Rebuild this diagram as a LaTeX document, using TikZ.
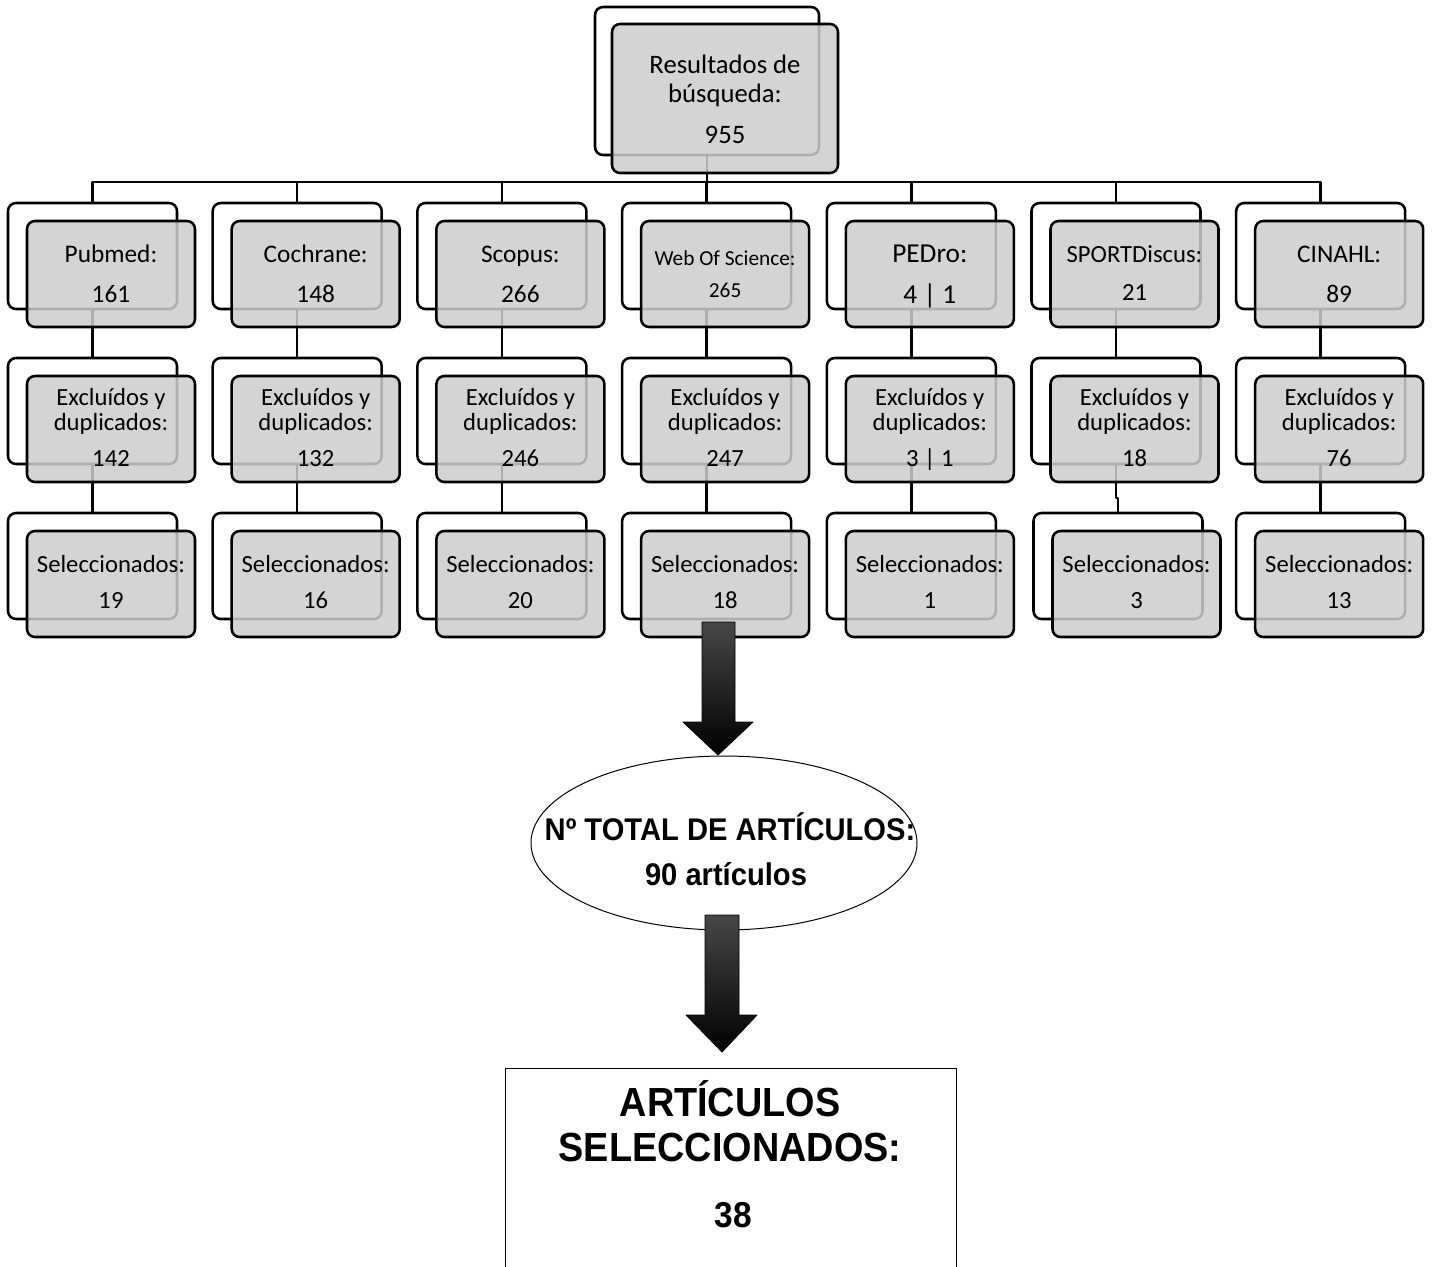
\documentclass[tikz,border=0pt]{standalone}
\usepackage{fontspec}
\setmainfont{Carlito}
\newfontfamily\arialfont{Liberation Sans}[FakeStretch=0.93]
\usetikzlibrary{shapes.geometric,calc}
\definecolor{boxgray}{RGB}{205,205,205}
\begin{document}
\begin{tikzpicture}[x=0.75pt,y=-0.75pt,line join=round,
  backbox/.style={draw=black,line width=1.9pt,rounded corners=6pt,fill=white,
    minimum width=126.75pt,minimum height=79.5pt,inner sep=0pt,outer sep=0pt,anchor=north west},
  frontbox/.style={draw=black,line width=1.9pt,rounded corners=6pt,fill=boxgray,fill opacity=0.85,
    minimum width=126pt,minimum height=79.5pt,inner sep=0pt,outer sep=0pt,anchor=north west},
  conn/.style={draw=black,line width=1.9pt},
  lbl/.style={anchor=base,inner sep=0pt,font=\fontsize{18.5}{20}\selectfont},
  lblA/.style={anchor=base,inner sep=0pt,font=\fontsize{19}{21}\selectfont},
  bigtxt/.style={anchor=base,inner sep=0pt,font=\arialfont\bfseries\fontsize{23.5}{25}\selectfont},
  hugetxt/.style={anchor=base,inner sep=0pt,font=\arialfont\bfseries\fontsize{30.5}{32}\selectfont},
  blockarrow/.style={draw=black,line width=0.6pt,top color=black!72,middle color=black,bottom color=black}
]
\clip (0,0) rectangle (1432,1267);
\fill[white] (0,0) rectangle (1432,1267);

% top box
\node[backbox,minimum width=168pt,minimum height=111pt] (tb) at (595,7) {};
\path (tb.south) ++(0,27) coordinate (bus);

% back boxes
\foreach \k in {1,...,7}{
  \pgfmathsetmacro\xl{8+204.7*(\k-1)}
  \foreach \r/\yt in {1/203,2/358,3/513}{
    \pgfmathsetmacro\dx{((\k==6)&&(\r==3))?2:0}
    \node[backbox] (b\k\r) at (\xl+\dx,\yt) {};
  }
}

% connectors
\draw[conn] (tb.south) -- (bus);
\foreach \k in {1,...,7}{
  \draw[conn] (bus) -| (b\k1.north);
  \draw[conn] (b\k1.south) -- (b\k2.north);
  \draw[conn] (b\k2.south) -- ++(0,34) -| (b\k3.north);
}

% front boxes
\node[frontbox,minimum width=169.5pt,minimum height=111.75pt] (tf) at (612,24) {};
\foreach \k in {1,...,7}{
  \pgfmathsetmacro\xl{8+204.7*(\k-1)}
  \foreach \r/\yt in {1/203,2/358,3/513}{
    \pgfmathsetmacro\dx{((\k==6)&&(\r==3))?2:0}
    \node[frontbox] (f\k\r) at (\xl+19+\dx,\yt+18) {};
  }
}

% top text
\node[anchor=base,inner sep=0pt,font=\fontsize{20}{22}\selectfont] (ta) at ($(tf.north)+(0,49)$) {Resultados de};
\node[anchor=base,inner sep=0pt,font=\fontsize{20}{22}\selectfont] (tbq) at ($(tf.north)+(0,78)$) {búsqueda:};
\node[anchor=base,inner sep=0pt,font=\fontsize{20}{22}\selectfont] (tn) at ($(tf.north)+(0,119)$) {955};

% row 1 text
\node[lblA] (n1a) at ($(f11.north)+(0,41)$) {Pubmed:};
\node[lblA] (n1b) at ($(f11.north)+(0,81)$) {161};
\node[lblA] (n2a) at ($(f21.north)+(0,41)$) {Cochrane:};
\node[lblA] (n2b) at ($(f21.north)+(0,81)$) {148};
\node[lblA] (n3a) at ($(f31.north)+(0,41)$) {Scopus:};
\node[lblA] (n3b) at ($(f31.north)+(0,81)$) {266};
\node[anchor=base,inner sep=0pt,font=\fontsize{16}{18}\selectfont] (n4a) at ($(f41.north)+(0,44)$) {Web Of Science:};
\node[anchor=base,inner sep=0pt,font=\fontsize{16}{18}\selectfont] (n4b) at ($(f41.north)+(0,76)$) {265};
\node[anchor=base,inner sep=0pt,font=\fontsize{20.5}{22}\selectfont] (n5a) at ($(f51.north)+(0,41)$) {PEDro:};
\node[anchor=base,inner sep=0pt,font=\fontsize{20.5}{22}\selectfont] (n5b) at ($(f51.north)+(0,82)$) {4 | 1};
\node[lbl] (n6a) at ($(f61.north)+(0,41)$) {SPORTDiscus:};
\node[lbl] (n6b) at ($(f61.north)+(0,79)$) {21};
\node[lblA] (n7a) at ($(f71.north)+(0,41)$) {CINAHL:};
\node[lblA] (n7b) at ($(f71.north)+(0,81)$) {89};

% rows 2 and 3 text
\foreach \k/\e/\s in {1/142/19,2/132/16,3/246/20,4/247/18,5/3 | 1/1,6/18/3,7/76/13}{
  \node[lbl] (ea\k) at ($(f\k2.north)+(0,29)$) {Excluídos y};
  \node[lbl] (eb\k) at ($(f\k2.north)+(0,54)$) {duplicados:};
  \node[lbl] (ec\k) at ($(f\k2.north)+(0,90)$) {\e};
  \node[lbl] (sa\k) at ($(f\k3.north)+(0,41)$) {Seleccionados:};
  \node[lbl] (sb\k) at ($(f\k3.north)+(0,77)$) {\s};
}

% ellipse
\node[draw=black,ellipse,line width=0.75pt,fill=white,minimum width=289.5pt,minimum height=130.5pt,inner sep=0pt] (ell) at (724,843) {};
\node[bigtxt] (ella) at (730,840) {Nº TOTAL DE ARTÍCULOS:};
\node[bigtxt] (ellb) at (726,885) {90 artículos};

% block arrows
\shade[blockarrow] (702,622) -- (735,622) -- (735,722) -- (753,722) -- (718,755) -- (683,722) -- (702,722) -- cycle;
\shade[blockarrow] (705,915) -- (739,915) -- (739,1015) -- (757,1015) -- (722,1052) -- (686,1015) -- (705,1015) -- cycle;

% final box
\node[draw=black,line width=1pt,minimum width=338.25pt,minimum height=162pt,inner sep=0pt,anchor=north west] (res) at (505,1068) {};
\node[hugetxt] (ra) at (730,1116) {ARTÍCULOS};
\node[hugetxt] (rb) at (730,1161) {SELECCIONADOS:};
\node[anchor=base,inner sep=0pt,font=\arialfont\bfseries\fontsize{27}{29}\selectfont] (rc) at (733,1227) {38};
\end{tikzpicture}
\end{document}
